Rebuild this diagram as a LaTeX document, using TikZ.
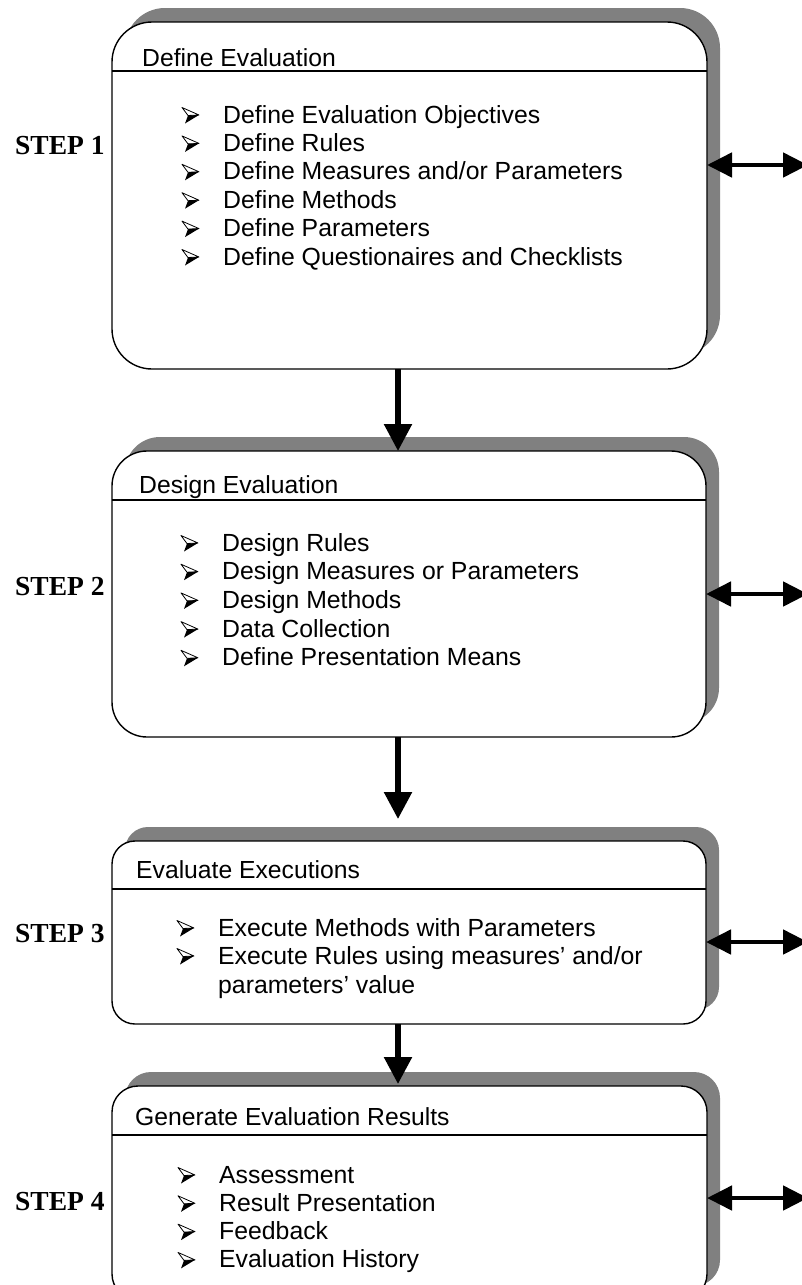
\documentclass[tikz,border=0pt]{standalone}
\usepackage{fontspec}
\setmainfont{Liberation Sans}
\newfontfamily\stepfont{Liberation Serif}
\usetikzlibrary{arrows.meta,shadows}
\definecolor{shadowgray}{HTML}{808080}

\tikzset{
  stagebox/.style={draw=black, line width=1.4pt, fill=white, inner sep=0pt, outer sep=0pt,
    copy shadow={shadow xshift=13pt, shadow yshift=14pt, fill=shadowgray, draw=none}},
  headrule/.style={line width=1.4pt},
  titletext/.style={anchor=base west, inner sep=0pt, font=\fontsize{24.7}{28}\selectfont},
  itemtext/.style={anchor=base west, inner sep=0pt, font=\fontsize{24.8}{28}\selectfont},
  steplabel/.style={anchor=base west, inner sep=0pt, font=\stepfont\bfseries\fontsize{27.5}{30}\selectfont},
  varrow/.style={line width=5.5pt, -{Triangle[length=27pt 0 0, width=27pt 0 0]}},
  harrow/.style={line width=4.8pt,
    {Triangle[length=25pt 0 0, width=24pt 0 0]}-{Triangle[length=25pt 0 0, width=24pt 0 0]}},
  % 3-D arrowhead bullet: light upper facet, black lower facet
  arrowbullet/.pic={
    \filldraw[fill=white, draw=black, line width=0.8pt, line join=round]
      (0,-15.5) -- (17,-8) -- (6,-7.5) -- cycle;
    \fill[black] (6,-7.5) -- (17,-8) -- (3,0.5) -- cycle;
  }
}

\begin{document}
\begin{tikzpicture}[x=1pt, y=-1pt]
  \useasboundingbox (0,0) rectangle (801,1285);
  \fill[white] (0,0) rectangle (801,1285);

  % the four stage boxes
  \node[stagebox, minimum width=595pt, minimum height=347pt, rounded corners=40pt] (b1) at (409.5,195.5) {};
  \node[stagebox, minimum width=594pt, minimum height=286pt, rounded corners=35pt] (b2) at (409,594) {};
  \node[stagebox, minimum width=594pt, minimum height=183pt, rounded corners=23pt] (b3) at (409,932.5) {};
  \node[stagebox, minimum width=595pt, minimum height=214pt, rounded corners=26pt] (b4) at (409.5,1193) {};

  % header rules
  \coordinate (h1) at (0,71);
  \coordinate (h2) at (0,500);
  \coordinate (h3) at (0,889);
  \coordinate (h4) at (0,1135);
  \draw[headrule] (b1.west |- h1) -- (b1.east |- h1);
  \draw[headrule] (b2.west |- h2) -- (b2.east |- h2);
  \draw[headrule] (b3.west |- h3) -- (b3.east |- h3);
  \draw[headrule] (b4.west |- h4) -- (b4.east |- h4);

  % titles
  \node[titletext] (t1) at (142,66) {Define Evaluation};
  \node[titletext] (t2) at (139,493) {Design Evaluation};
  \node[titletext] (t3) at (136,878) {Evaluate Executions};
  \node[titletext] (t4) at (135,1125) {Generate Evaluation Results};

  % step 1 items
  \foreach \t [count=\i] in {Define Evaluation Objectives, Define Rules,
      Define Measures and/or Parameters, Define Methods, Define Parameters,
      Define Questionaires and Checklists}{
    \pic (m1-\i) at (182,{123+28.4*(\i-1)}) {arrowbullet};
    \node[itemtext] (s1-\i) at (223,{123+28.4*(\i-1)}) {\t};
  }

  % step 2 items
  \foreach \t [count=\i] in {Design Rules, Design Measures or Parameters,
      Design Methods, Data Collection, Define Presentation Means}{
    \pic (m2-\i) at (181,{551+28.7*(\i-1)}) {arrowbullet};
    \node[itemtext] (s2-\i) at (222,{551+28.7*(\i-1)}) {\t};
  }

  % step 3 items
  \pic (m3-1) at (177,936) {arrowbullet};
  \node[itemtext] (s3-1) at (218,936) {Execute Methods with Parameters};
  \pic (m3-2) at (177,964) {arrowbullet};
  \node[itemtext] (s3-2) at (218,964) {Execute Rules using measures’ and/or};
  \node[itemtext] (s3-3) at (218,993) {parameters’ value};

  % step 4 items
  \foreach \t [count=\i] in {Assessment, Result Presentation, Feedback, Evaluation History}{
    \pic (m4-\i) at (178,{1183+28.3*(\i-1)}) {arrowbullet};
    \node[itemtext] (s4-\i) at (219,{1183+28.3*(\i-1)}) {\t};
  }

  % step labels
  \node[steplabel] (l1) at (15,154) {STEP 1};
  \node[steplabel] (l2) at (15,595) {STEP 2};
  \node[steplabel] (l3) at (15,942) {STEP 3};
  \node[steplabel] (l4) at (15,1210) {STEP 4};

  % flow between stages
  \coordinate (ax) at (398,0);
  \draw[varrow] (b1.south -| ax) -- (b2.north -| ax);
  \draw[varrow] (b2.south -| ax) -- ([yshift=22pt]b3.north -| ax);
  \draw[varrow] (b3.south -| ax) -- ([yshift=2pt]b4.north -| ax);

  % exchanges to the right
  \coordinate (r1) at (808,165);
  \coordinate (r2) at (808,594);
  \coordinate (r3) at (808,942);
  \coordinate (r4) at (808,1198);
  \draw[harrow] (b1.east |- r1) -- (r1);
  \draw[harrow] (b2.east |- r2) -- (r2);
  \draw[harrow] (b3.east |- r3) -- (r3);
  \draw[harrow] (b4.east |- r4) -- (r4);
\end{tikzpicture}
\end{document}
